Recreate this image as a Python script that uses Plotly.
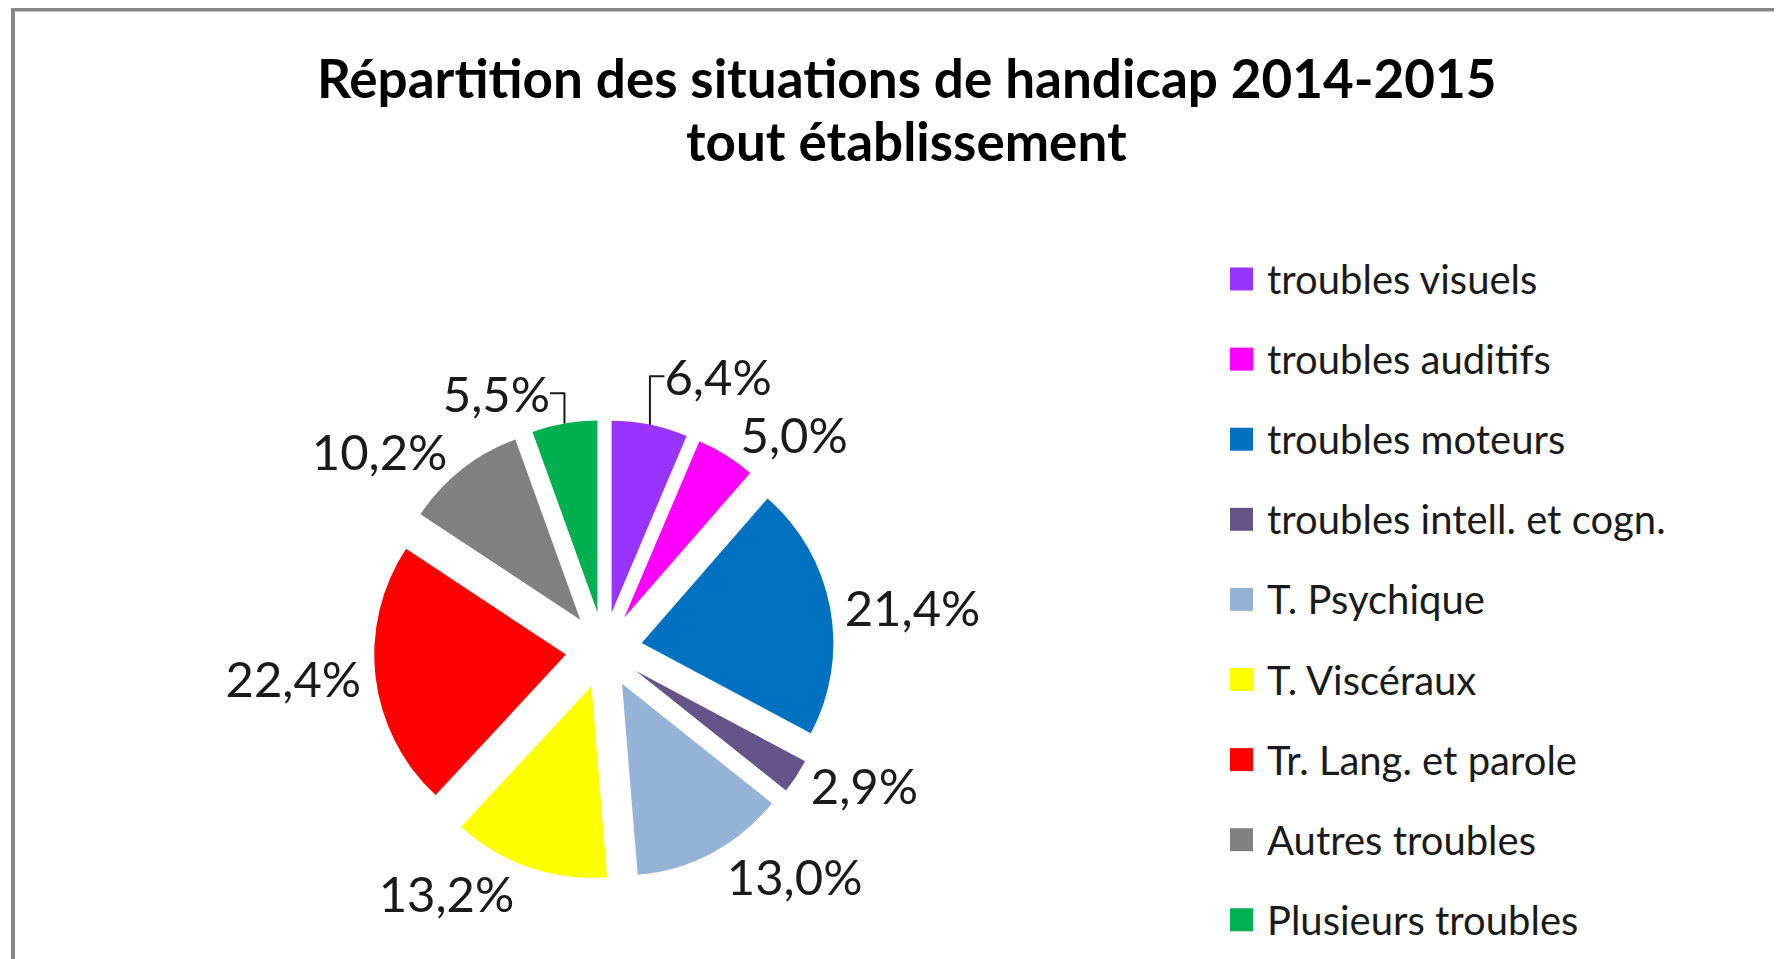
import plotly.graph_objects as go

categories = ["troubles visuels", "troubles auditifs", "troubles moteurs",
              "troubles intell. et cogn.", "T. Psychique", "T. Viscéraux",
              "Tr. Lang. et parole", "Autres troubles", "Plusieurs troubles"]
values = [6.4, 5.0, 21.4, 2.9, 13.0, 13.2, 22.4, 10.2, 5.5]
colors = ["#9933FF", "#FF00FF", "#0070C0", "#65548A", "#95B3D7",
          "#FFFF00", "#FF0000", "#808080", "#00B050"]
title_lines = ["Répartition des situations de handicap 2014-2015", "tout établissement"]

W, H = 1782, 959
FONT = "Lato, Carlito, Calibri, sans-serif"

# mapping from on-screen pixel targets to paper fractions
OX, OY, PW, PH = 8, 8, W, H


def fx(x):
    return (x - OX) / PW


def fy(y):
    return 1 - (y - OY) / PH


fig = go.Figure()

cx, cy, R = 604, 650, 230
fig.add_trace(go.Pie(
    labels=categories,
    values=values,
    sort=False,
    direction="clockwise",
    rotation=0,
    pull=[0.2] * len(values),
    marker=dict(colors=colors, line=dict(width=0)),
    textinfo="text",
    texttemplate="%{value:.1f}%",
    textposition="outside",
    textfont=dict(family=FONT, size=49, color="#1a1a1a"),
    showlegend=False,
    automargin=False,
    hoverinfo="label+value",
    domain=dict(x=[fx(cx - R), fx(cx + R)],
                y=[fy(cy + R), fy(cy - R)]),
))

shapes = []
annotations = []

# chart border (top and left visible)
shapes.append(dict(type="line", xref="paper", yref="paper",
                   x0=fx(11), x1=1.05, y0=fy(9.5), y1=fy(9.5),
                   line=dict(color="#878787", width=4)))
shapes.append(dict(type="line", xref="paper", yref="paper",
                   x0=fx(13), x1=fx(13), y0=fy(8), y1=-0.2,
                   line=dict(color="#878787", width=4)))

# legend
lx_sq0, lx_sq1, lx_txt = 1230, 1253, 1265
y0_leg, dy_leg, sq = 279, 80.1, 23
for i, (cat, col) in enumerate(zip(categories, colors)):
    yc = y0_leg + i * dy_leg
    shapes.append(dict(type="rect", xref="paper", yref="paper",
                       x0=fx(lx_sq0), x1=fx(lx_sq1),
                       y0=fy(yc + sq / 2), y1=fy(yc - sq / 2),
                       fillcolor=col, line=dict(width=0)))
    annotations.append(dict(text=cat, xref="paper", yref="paper",
                            x=fx(lx_txt), y=fy(yc),
                            xanchor="left", yanchor="middle", showarrow=False,
                            font=dict(family=FONT, size=40, color="#1a1a1a")))

# title (two lines)
for txt, ty in zip(title_lines, [77, 140]):
    annotations.append(dict(text=f"<b>{txt}</b>",
                            xref="paper", yref="paper", x=fx(906), y=fy(ty),
                            xanchor="center", yanchor="middle", showarrow=False,
                            font=dict(family=FONT, size=53, color="#000000")))

fig.update_layout(
    width=W, height=H,
    autosize=False,
    showlegend=False,
    margin=dict(l=0, r=0, t=0, b=0, pad=0, autoexpand=False),
    paper_bgcolor="white",
    plot_bgcolor="white",
    separators=", ",
    shapes=shapes,
    annotations=annotations,
)

fig.write_html("out.html", config={"responsive": False})
